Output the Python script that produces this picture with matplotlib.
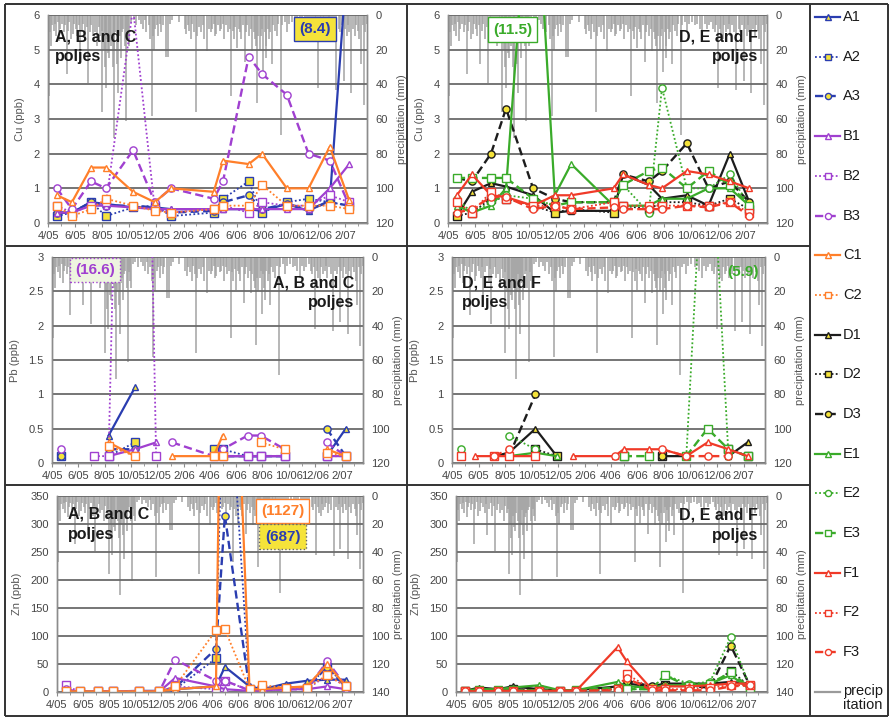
import numpy as np
import matplotlib
matplotlib.use("Agg")
import matplotlib.pyplot as plt
import matplotlib.dates as mdates
from matplotlib.ticker import FuncFormatter, MultipleLocator

plt.rcParams['font.family'] = ['Liberation Sans', 'DejaVu Sans']

nan = np.nan

# sampling campaigns
sample_dates = np.array(['2005-04-21', '2005-05-25', '2005-07-07', '2005-08-10',
                         '2005-10-10', '2005-11-28', '2006-01-04', '2006-04-10',
                         '2006-05-01', '2006-06-28', '2006-07-28', '2006-09-22',
                         '2006-11-10', '2006-12-28', '2007-02-10'], dtype='datetime64[D]')

# ---- Cu (ppb) ----
cu_abc = {
    'A1': [0.3, 0.3, 0.6, 0.55, 0.45, 0.45, 0.4, 0.4, 0.4, 0.4, 0.35, 0.55, 0.35, 0.65, 8.4],
    'A2': [0.2, 0.3, 0.6, 0.2, 0.45, 0.5, 0.2, 0.3, 0.7, 1.2, 0.3, 0.6, 0.7, 0.6, 0.5],
    'A3': [0.3, 0.3, 0.6, 0.5, 0.5, 0.45, 0.3, 0.35, 0.6, 0.8, 0.4, 0.55, 0.4, 0.6, 0.5],
    'B1': [0.3, 0.3, 0.5, 0.5, 0.45, 0.4, 0.4, 0.4, 0.4, 0.4, 0.4, 0.4, 0.4, 1.0, 1.7],
    'B2': [0.5, 0.3, 0.5, 0.6, 6.2, 0.4, 0.3, 0.4, 0.5, 0.3, 0.6, 0.5, 0.5, 0.8, 0.6],
    'B3': [1.0, 0.4, 1.2, 1.0, 2.1, 0.6, 1.0, 0.7, 1.2, 4.8, 4.3, 3.7, 2.0, 1.8, 0.5],
    'C1': [0.8, 0.6, 1.6, 1.6, 0.9, 0.6, 1.0, 0.9, 1.8, 1.7, 2.0, 1.0, 1.0, 2.2, 0.65],
    'C2': [0.5, 0.2, 0.4, 0.7, 0.5, 0.35, 0.3, 0.4, 0.5, 0.5, 1.1, 0.5, 0.5, 0.5, 0.4],
}
cu_def = {
    'D1': [0.2, 0.9, 1.15, 1.05, 0.8, 0.3, 0.35, 0.35, 1.4, 1.1, 0.7, 0.8, 0.5, 2.0, 0.6],
    'D2': [0.2, 0.3, 0.7, 0.7, 0.5, 0.3, 0.4, 0.3, 0.5, 0.4, 0.6, 0.6, 0.5, 0.7, 0.4],
    'D3': [1.3, 1.2, 2.0, 3.3, 1.0, 0.7, 0.6, 0.6, 1.4, 1.2, 1.5, 2.3, 1.0, 1.2, 0.6],
    'E1': [0.5, 0.3, 0.5, 1.0, 11.5, 0.8, 1.7, 0.5, 0.5, 0.5, 0.7, 0.7, 1.0, 1.0, 0.5],
    'E2': [0.7, 0.3, 0.6, 0.8, 0.7, 0.5, 0.6, 0.6, 1.1, 0.3, 3.9, 1.0, 1.0, 1.4, 0.5],
    'E3': [1.3, 1.3, 1.3, 1.3, 0.7, 0.5, 0.6, 0.6, 1.1, 1.5, 1.6, 1.0, 1.5, 1.1, 0.5],
    'F1': [0.8, 1.4, 0.8, 0.75, 0.5, 0.8, 0.8, 1.0, 1.4, 1.1, 1.0, 1.5, 1.4, 1.2, 1.0],
    'F2': [0.6, 0.3, 0.9, 0.7, 0.5, 0.5, 0.4, 0.6, 0.5, 0.5, 0.5, 0.5, 0.5, 0.6, 0.3],
    'F3': [0.3, 0.4, 0.75, 0.75, 0.4, 0.5, 0.4, 0.45, 0.4, 0.4, 0.4, 0.5, 0.45, 0.6, 0.2],
}

# ---- Pb (ppb) ----
pb_abc = {
    'A1': [0.1, nan, nan, 0.4, 1.1, nan, nan, 0.1, 0.1, 0.1, 0.1, 0.1, nan, 0.1, 0.5],
    'A2': [0.1, nan, nan, 0.1, 0.3, nan, nan, 0.2, 0.2, 0.1, 0.1, 0.1, nan, 0.1, 0.1],
    'A3': [0.1, nan, nan, 0.2, 0.2, nan, nan, 0.1, 0.1, 0.1, 0.1, 0.1, nan, 0.5, 0.1],
    'B1': [nan, nan, nan, 0.1, 0.2, 0.3, nan, 0.1, 0.1, 0.1, 0.1, 0.1, nan, 0.1, 0.1],
    'B2': [nan, nan, 0.1, 0.1, 16.6, 0.1, nan, 0.1, 0.1, 0.1, 0.1, 0.1, nan, 0.1, 0.1],
    'B3': [0.2, nan, nan, nan, nan, nan, 0.3, 0.1, 0.2, 0.4, 0.4, 0.2, nan, 0.3, 0.1],
    'C1': [nan, nan, nan, 0.3, 0.1, nan, 0.1, 0.1, 0.4, nan, nan, nan, nan, 0.2, 0.1],
    'C2': [nan, nan, nan, 0.25, 0.1, nan, nan, 0.1, 0.1, nan, 0.3, 0.2, nan, 0.15, 0.1],
}
pb_def = {
    'D1': [nan, nan, 0.1, 0.15, 0.5, 0.1, nan, nan, nan, nan, 0.1, 0.1, nan, 0.1, 0.3],
    'D2': [nan, nan, nan, nan, 0.2, 0.1, nan, nan, 0.1, nan, 0.1, nan, nan, 0.2, 0.1],
    'D3': [nan, nan, nan, 0.1, 1.0, nan, nan, nan, 0.1, nan, 0.1, nan, nan, 0.2, 0.1],
    'E1': [nan, nan, nan, 0.1, 0.15, 0.1, nan, nan, nan, nan, nan, nan, nan, nan, nan],
    'E2': [0.2, nan, nan, 0.4, 0.2, nan, nan, nan, nan, nan, nan, 0.1, 5.9, 0.1, nan],
    'E3': [nan, nan, nan, nan, nan, nan, nan, nan, 0.1, 0.1, nan, 0.1, 0.5, 0.2, 0.1],
    'F1': [nan, 0.1, 0.1, 0.1, 0.1, nan, 0.1, 0.1, 0.2, 0.2, 0.2, 0.1, 0.3, 0.2, 0.1],
    'F2': [0.1, nan, 0.1, 0.1, 0.1, nan, nan, nan, nan, nan, nan, nan, nan, nan, nan],
    'F3': [nan, nan, 0.1, 0.2, nan, nan, nan, 0.1, nan, nan, 0.2, 0.1, 0.1, 0.1, nan],
}

# ---- Zn (ppb) ----
zn_abc = {
    'A1': [1, 1, 1, 1, 2, 2, 5, 10, 45, 10, 5, 15, 20, 22, 22],
    'A2': [1, 1, 1, 1, 1, 1, 5, 60, 687, 5, 5, 8, 8, 45, 10],
    'A3': [1, 1, 1, 1, 1, 1, 8, 77, 315, 5, 5, 8, 8, 45, 8],
    'B1': [2, 0, 1, 1, 1, 1, 25, 10, 5, 2, 3, 5, 5, 10, 5],
    'B2': [12, 0, 1, 1, 1, 1, 10, 5, 20, 3, 3, 5, 5, 30, 10],
    'B3': [5, 0, 1, 1, 1, 1, 58, 20, 20, 3, 3, 5, 5, 55, 10],
    'C1': [1, 1, 1, 1, 1, 1, 5, 10, 1127, 5, 5, 8, 10, 50, 10],
    'C2': [1, 1, 1, 1, 1, 1, 10, 110, 112, 5, 12, 8, 8, 30, 10],
}
zn_def = {
    'D1': [2, 8, 5, 10, 5, 3, 3, 10, 15, 10, 15, 15, 15, 18, 15],
    'D2': [1, 2, 2, 5, 3, 2, 2, 5, 10, 8, 12, 10, 10, 38, 10],
    'D3': [1, 2, 2, 5, 3, 2, 2, 8, 20, 10, 12, 10, 8, 83, 12],
    'E1': [3, 5, 5, 8, 12, 3, 3, 18, 10, 8, 12, 12, 15, 30, 5],
    'E2': [2, 3, 3, 3, 3, 2, 3, 5, 5, 5, 30, 15, 18, 98, 10],
    'E3': [2, 3, 3, 3, 3, 2, 3, 8, 5, 5, 30, 10, 15, 35, 8],
    'F1': [1, 1, 2, 2, 2, 2, 2, 80, 55, 5, 10, 10, 12, 15, 15],
    'F2': [1, 1, 2, 2, 2, 2, 2, 5, 32, 5, 5, 5, 8, 12, 12],
    'F3': [1, 1, 1, 1, 1, 2, 2, 3, 25, 3, 3, 3, 3, 10, 12],
}

# ---- daily precipitation (mm): day number counted from 1 April 2005 ----
rain_day = [2, 4, 7, 10, 13, 16, 19, 22, 25, 28, 31, 35, 38, 42, 45, 48, 52, 56, 59,
            63, 66, 69, 72, 76, 80, 84, 87, 90, 94, 98, 102, 106, 110, 114, 118,
            121, 123, 126, 128, 130, 132, 135, 137, 140, 143, 146, 148, 150, 152, 155, 157,
            159, 162, 164, 167, 170, 173, 176, 179, 181,
            183, 188, 193, 199, 205, 210, 215, 219, 222, 227, 231, 234, 236, 239, 242,
            246, 249, 252, 256, 260, 266, 271, 275, 280, 295,
            309, 312, 315, 319, 323, 326, 330, 333, 336, 340, 345, 349, 353, 359, 363,
            367, 370, 374, 377, 380, 384, 388, 391, 395, 398, 402, 406, 410, 414, 417, 420, 423, 426,
            430, 433, 436, 440, 444, 447, 450, 454, 458, 461, 464, 467, 470, 472, 475, 478, 481, 484, 486,
            489, 491, 493, 496, 499, 502, 505, 508, 512, 516, 520, 525, 529, 534, 539, 544,
            550, 558, 563, 568, 574, 579, 584, 589, 594, 599, 603, 606, 609,
            613, 616, 620, 623, 627, 631, 634, 637, 641, 645, 651, 656, 660, 664, 667, 670,
            674, 677, 680, 685, 688, 692, 696, 700, 703, 706, 710, 713, 716, 719]
rain_mm = [47, 10, 18, 6, 9, 5, 12, 4, 15, 8, 5, 10, 6, 34, 9, 4, 14, 11, 5,
           8, 12, 6, 28, 9, 5, 14, 7, 39, 10, 6, 12, 10, 18, 7, 12,
           9, 56, 20, 30, 42, 14, 22, 25, 12, 18, 30, 71, 20, 10, 28, 45,
           15, 12, 25, 10, 8, 18, 61, 9, 14,
           18, 4, 3, 6, 3, 5, 8, 3, 10, 6, 14, 58, 12, 20, 8,
           6, 12, 5, 10, 6, 24, 24, 5, 3, 4,
           8, 11, 6, 9, 14, 5, 10, 56, 12, 7, 10, 6, 14, 21, 8,
           10, 8, 5, 12, 11, 6, 9, 8, 5, 14, 6, 10, 8, 47, 9, 14, 7, 19,
           8, 10, 14, 6, 27, 10, 6, 12, 8, 21, 10, 14, 18, 51, 12, 20, 12, 8, 33,
           10, 18, 25, 8, 14, 10, 28, 6, 9, 12, 5, 69, 6, 4, 10, 5,
           4, 6, 5, 8, 12, 5, 8, 6, 4, 8, 10, 6, 42,
           8, 12, 14, 6, 10, 8, 5, 12, 6, 10, 43, 8, 10, 6, 38, 8,
           12, 6, 10, 45, 8, 12, 6, 9, 14, 28, 6, 52, 10, 5]

# ---- series styles ----
BLUE, PURPLE, ORANGE = '#2a3db0', '#a040d0', '#ff7f2a'
BLACK, GREEN, RED = '#1c1c1c', '#3aab2a', '#f03a28'
YELLOW = '#f5e33a'


def style(color, ls, marker, fill):
    lw = 1.6 if ls == '-' else (1.7 if ls == '--' else 1.3)
    ms = 4.5 if marker == '^' else 5.2
    d = dict(color=color, lw=lw, marker=marker, ms=ms, mfc=fill, mec=color, mew=1.0)
    if ls == '--':
        d['dashes'] = (3.5, 1.8)
    elif ls == ':':
        d['dashes'] = (1.0, 1.3)
    else:
        d['ls'] = '-'
    return d


series_style = {
    'A1': style(BLUE, '-', '^', YELLOW), 'A2': style(BLUE, ':', 's', YELLOW),
    'A3': style(BLUE, '--', 'o', YELLOW),
    'B1': style(PURPLE, '-', '^', 'white'), 'B2': style(PURPLE, ':', 's', 'white'),
    'B3': style(PURPLE, '--', 'o', 'white'),
    'C1': style(ORANGE, '-', '^', 'white'), 'C2': style(ORANGE, ':', 's', 'white'),
    'D1': style(BLACK, '-', '^', YELLOW), 'D2': style(BLACK, ':', 's', YELLOW),
    'D3': style(BLACK, '--', 'o', YELLOW),
    'E1': style(GREEN, '-', '^', 'white'), 'E2': style(GREEN, ':', 'o', 'white'),
    'E3': style(GREEN, '--', 's', 'white'),
    'F1': style(RED, '-', '^', 'white'), 'F2': style(RED, ':', 's', 'white'),
    'F3': style(RED, '--', 'o', 'white'),
}
legend_order = ['A1', 'A2', 'A3', 'B1', 'B2', 'B3', 'C1', 'C2', 'D1', 'D2', 'D3',
                'E1', 'E2', 'E3', 'F1', 'F2', 'F3']

W, H = 890, 721
fig = plt.figure(figsize=(W / 100, H / 100), dpi=100)
fig.patch.set_facecolor('white')

TICK_C = '#444444'
GRID_C = '#6a6a6a'
AXIS_C = '#8c8c8c'
RAIN_C = '#a3a3a3'

rain_dates = np.datetime64('2005-04-01') + np.array(rain_day).astype('timedelta64[D]')
x_start = np.datetime64('2005-04-01')
x_end = np.datetime64('2007-03-22')


def month_label(v, pos):
    d = mdates.num2date(v)
    return f"{d.month}/{d.year % 100:02d}"


def px_rect(x0, y0, x1, y1):
    return [x0 / W, 1 - y1 / H, (x1 - x0) / W, (y1 - y0) / H]


def panel(rect, data, ymax, ystep, ylabel, rain_max):
    ax = fig.add_axes(px_rect(*rect))
    ax2 = ax.twinx()
    ax2.vlines(rain_dates, 0, rain_mm, color=RAIN_C, lw=1.1)
    ax2.set_ylim(rain_max, 0)
    ax2.yaxis.set_major_locator(MultipleLocator(20))
    ax2.tick_params(axis='y', length=0, pad=6, labelsize=8, labelcolor=TICK_C)
    ax2.set_ylabel('precipitation (mm)', fontsize=8, color='#555555', labelpad=2)
    ax.set_zorder(ax2.get_zorder() + 1)
    ax.patch.set_visible(False)

    for name, vals in data.items():
        y = np.array(vals, dtype=float)
        ax.plot(sample_dates, y, clip_on=True, **series_style[name])

    ax.set_xlim(x_start, x_end)
    ax.set_ylim(0, ymax)
    ax.yaxis.set_major_locator(MultipleLocator(ystep))
    ax.yaxis.set_major_formatter(FuncFormatter(lambda v, p: f"{v:g}"))
    ax.xaxis.set_major_locator(mdates.MonthLocator(bymonth=[2, 4, 6, 8, 10, 12]))
    ax.xaxis.set_major_formatter(FuncFormatter(month_label))
    ax.xaxis.set_minor_locator(mdates.MonthLocator())
    ax.tick_params(axis='y', length=0, pad=6, labelsize=8, labelcolor=TICK_C)
    ax.tick_params(axis='x', which='major', length=3, pad=3, labelsize=8,
                   labelcolor=TICK_C, color=AXIS_C)
    ax.tick_params(axis='x', which='minor', length=2, color=AXIS_C)
    ax.grid(axis='y', color=GRID_C, lw=1.3)
    ax.set_ylabel(ylabel, fontsize=8, color='#555555', labelpad=6)
    for a in (ax, ax2):
        a.spines['top'].set_visible(False)
        for s in ('left', 'right', 'bottom'):
            a.spines[s].set_color(AXIS_C)
            a.spines[s].set_linewidth(1.0)
    return ax


def poljes(ax, x, y, text, ha):
    ax.text(x, y, text, transform=ax.transAxes, ha=ha, va='top', fontsize=11.5,
            fontweight='bold', color='#1a1a1a', linespacing=1.4, zorder=20,
            multialignment=ha)


def badge(ax, x, y, text, color, face, edge, ls='-'):
    t = ax.text(x, y, text, transform=ax.transAxes, ha='center', va='center',
                fontsize=11, fontweight='bold', color=color, zorder=25)
    if face is not None:
        t.set_bbox(dict(boxstyle='square,pad=0.35', facecolor=face, edgecolor=edge,
                        linestyle=ls, linewidth=1.0))


# Cu panels
ax = panel((48, 15, 367, 223), cu_abc, 6, 1, 'Cu (ppb)', 120)
poljes(ax, 0.022, 0.93, 'A, B and C\npoljes', 'left')
badge(ax, 0.837, 0.933, '(8.4)', BLUE, YELLOW, BLUE)

ax = panel((448, 15, 767, 223), cu_def, 6, 1, 'Cu (ppb)', 120)
poljes(ax, 0.972, 0.93, 'D, E and F\npoljes', 'right')
badge(ax, 0.202, 0.93, '(11.5)', GREEN, 'white', GREEN)

# Pb panels
ax = panel((52, 257, 363, 463), pb_abc, 3, 0.5, 'Pb (ppb)', 120)
poljes(ax, 0.972, 0.91, 'A, B and C\npoljes', 'right')
badge(ax, 0.138, 0.937, '(16.6)', PURPLE, '#eef5e0', PURPLE, ':')

ax = panel((452, 257, 765, 463), pb_def, 3, 0.5, 'Pb (ppb)', 120)
poljes(ax, 0.032, 0.91, 'D, E and F\npoljes', 'left')
badge(ax, 0.93, 0.927, '(5.9)', GREEN, None, None)

# Zn panels
ax = panel((57, 496, 363, 692), zn_abc, 350, 50, 'Zn (ppb)', 140)
poljes(ax, 0.036, 0.945, 'A, B and C\npoljes', 'left')
badge(ax, 0.737, 0.923, '(1127)', ORANGE, 'white', ORANGE)
badge(ax, 0.737, 0.793, '(687)', BLUE, YELLOW, '#666666', ':')

ax = panel((456, 496, 767, 692), zn_def, 350, 50, 'Zn (ppb)', 140)
poljes(ax, 0.971, 0.94, 'D, E and F\npoljes', 'right')

# frame lines and legend column, drawn in pixel coordinates
ov = fig.add_axes([0, 0, 1, 1], zorder=50)
ov.set_xlim(0, W)
ov.set_ylim(H, 0)
ov.axis('off')
ov.patch.set_visible(False)
frame = dict(color='#333333', lw=1.4, solid_capstyle='butt')
ov.plot([5, 888], [4, 4], **frame)
ov.plot([5, 888], [716, 716], **frame)
ov.plot([5, 5], [4, 716], **frame)
ov.plot([888, 888], [4, 716], **frame)
ov.plot([810, 810], [4, 716], **frame)
ov.plot([407, 407], [4, 716], **frame)
ov.plot([5, 810], [246, 246], **frame)
ov.plot([5, 810], [485, 485], **frame)

y0, dy = 17, 39.7
for i, name in enumerate(legend_order):
    yy = y0 + i * dy
    st = dict(series_style[name])
    line_kw = {k: v for k, v in st.items() if k not in ('marker', 'ms', 'mfc', 'mec', 'mew')}
    ov.plot([815, 840], [yy, yy], **line_kw)
    ov.plot([827.5], [yy], ls='none', marker=st['marker'], ms=st['ms'] * 0.85,
            mfc=st['mfc'], mec=st['mec'], mew=st['mew'])
    ov.text(843, yy, name, va='center', ha='left', fontsize=10.5, color='#1a1a1a')
yy = y0 + len(legend_order) * dy
ov.plot([815, 840], [yy, yy], color='#9a9a9a', lw=1.6)
ov.text(843, yy - 8, 'precip\nitation', va='top', ha='left', fontsize=10.5,
        color='#1a1a1a', linespacing=1.05)

fig.savefig('out.png', dpi=100, facecolor='white')
